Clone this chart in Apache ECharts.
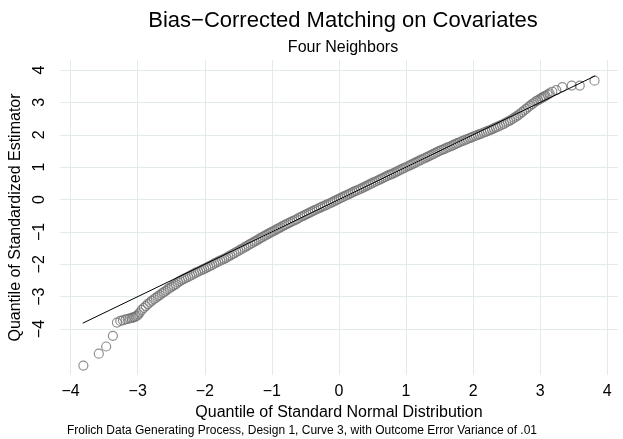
<!DOCTYPE html>
<html>
<head>
<meta charset="utf-8">
<script src="https://cdn.jsdelivr.net/npm/echarts@6/dist/echarts.min.js"></script>
<style>
  html, body { margin: 0; padding: 0; background: #fff; }
  #main { width: 623px; height: 439px; }
</style>
</head>
<body>
<div id="main"></div>
<script>
// quantiles of the standard normal (x) against sorted standardized estimates (y)
const qNormal = [
  -3.81, -3.58, -3.47, -3.37, -3.31, -3.26, -3.22, -3.18, -3.15, -3.12, -3.09, -3.07, -3.05, -3.03, -3.01, -2.99, -2.97,
  -2.94, -2.91, -2.88, -2.85, -2.82, -2.79, -2.76, -2.73, -2.70, -2.67, -2.64, -2.61, -2.58, -2.55, -2.52, -2.49,
  -2.46, -2.43, -2.40, -2.37, -2.34, -2.31, -2.28, -2.25, -2.22, -2.19, -2.16, -2.13, -2.10, -2.07, -2.04, -2.01,
  -1.98, -1.95, -1.92, -1.89, -1.86, -1.83, -1.80, -1.77, -1.74, -1.71, -1.68, -1.65, -1.62, -1.59, -1.56, -1.53,
  -1.50, -1.47, -1.44, -1.41, -1.38, -1.35, -1.32, -1.29, -1.26, -1.23, -1.20, -1.17, -1.14, -1.11, -1.08, -1.05,
  -1.02, -0.99, -0.96, -0.93, -0.90, -0.87, -0.84, -0.81, -0.78, -0.75, -0.72, -0.69, -0.66, -0.63, -0.60, -0.57,
  -0.54, -0.51, -0.48, -0.45, -0.42, -0.39, -0.36, -0.33, -0.30, -0.27, -0.24, -0.21, -0.18, -0.15, -0.12, -0.09,
  -0.06, -0.03, 0.00, 0.03, 0.06, 0.09, 0.12, 0.15, 0.18, 0.21, 0.24, 0.27, 0.30, 0.33, 0.36, 0.39,
  0.42, 0.45, 0.48, 0.51, 0.54, 0.57, 0.60, 0.63, 0.66, 0.69, 0.72, 0.75, 0.78, 0.81, 0.84, 0.87,
  0.90, 0.93, 0.96, 0.99, 1.02, 1.05, 1.08, 1.11, 1.14, 1.17, 1.20, 1.23, 1.26, 1.29, 1.32, 1.35,
  1.38, 1.41, 1.44, 1.47, 1.50, 1.53, 1.56, 1.59, 1.62, 1.65, 1.68, 1.71, 1.74, 1.77, 1.80, 1.83,
  1.86, 1.89, 1.92, 1.95, 1.98, 2.01, 2.04, 2.07, 2.10, 2.13, 2.16, 2.19, 2.22, 2.25, 2.28, 2.31,
  2.34, 2.37, 2.40, 2.43, 2.46, 2.49, 2.52, 2.55, 2.58, 2.61, 2.64, 2.67, 2.70, 2.73, 2.76, 2.79,
  2.82, 2.85, 2.88, 2.91, 2.94, 2.97,
  3.00, 3.02, 3.04, 3.06, 3.08, 3.11, 3.14, 3.18, 3.24, 3.33, 3.47, 3.59, 3.81
];
const qEstimate = [
  -5.13, -4.76, -4.54, -4.21, -3.80, -3.75, -3.73, -3.70, -3.69, -3.67, -3.66, -3.64, -3.63, -3.61, -3.59, -3.55, -3.49,
  -3.41, -3.35, -3.29, -3.23, -3.18, -3.13, -3.08, -3.04, -2.99, -2.95, -2.90, -2.86, -2.82, -2.77, -2.73, -2.69,
  -2.65, -2.61, -2.56, -2.52, -2.48, -2.45, -2.42, -2.39, -2.36, -2.33, -2.29, -2.26, -2.23, -2.20, -2.17, -2.14,
  -2.11, -2.08, -2.05, -2.02, -1.98, -1.95, -1.92, -1.89, -1.86, -1.83, -1.80, -1.76, -1.73, -1.69, -1.66, -1.62,
  -1.59, -1.55, -1.52, -1.48, -1.45, -1.41, -1.37, -1.34, -1.30, -1.27, -1.23, -1.19, -1.16, -1.12, -1.09, -1.05,
  -1.02, -0.99, -0.96, -0.92, -0.89, -0.86, -0.82, -0.79, -0.76, -0.73, -0.70, -0.67, -0.64, -0.61, -0.57, -0.54,
  -0.51, -0.48, -0.45, -0.42, -0.39, -0.36, -0.33, -0.30, -0.27, -0.24, -0.21, -0.19, -0.16, -0.13, -0.10, -0.07,
  -0.04, -0.01, 0.02, 0.05, 0.08, 0.11, 0.14, 0.17, 0.20, 0.23, 0.26, 0.28, 0.31, 0.34, 0.37, 0.40,
  0.43, 0.46, 0.49, 0.52, 0.55, 0.58, 0.61, 0.64, 0.67, 0.70, 0.73, 0.76, 0.78, 0.81, 0.84, 0.87,
  0.90, 0.93, 0.96, 0.99, 1.02, 1.05, 1.08, 1.11, 1.14, 1.17, 1.20, 1.23, 1.26, 1.29, 1.32, 1.35,
  1.38, 1.41, 1.44, 1.47, 1.50, 1.53, 1.55, 1.58, 1.61, 1.63, 1.66, 1.69, 1.72, 1.74, 1.77, 1.80,
  1.82, 1.85, 1.87, 1.90, 1.92, 1.95, 1.97, 2.00, 2.02, 2.04, 2.07, 2.09, 2.12, 2.14, 2.17, 2.20,
  2.23, 2.25, 2.28, 2.31, 2.34, 2.38, 2.41, 2.44, 2.48, 2.52, 2.56, 2.60, 2.65, 2.70, 2.75, 2.80,
  2.85, 2.90, 2.95, 2.99, 3.04, 3.07,
  3.11, 3.13, 3.16, 3.18, 3.20, 3.24, 3.28, 3.33, 3.38, 3.47, 3.52, 3.52, 3.67
];
// reference line (normal with the sample's mean and sd)
const refLineX = [-3.82, 3.82];
const refLineY = [-3.82, 3.82];
const xTicks = [-4, -3, -2, -1, 0, 1, 2, 3, 4];
const yTicks = [-4, -3, -2, -1, 0, 1, 2, 3, 4];

const font = "'Liberation Sans', Arial, Helvetica, sans-serif";
const gridColor = '#e2eaea';
const minus = v => String(v).replace('-', '\u2212');

let points = qNormal.map((x, i) => [x, qEstimate[i]]);
let line = refLineX.map((x, i) => [x, refLineY[i]]);

let option = {
  backgroundColor: '#ffffff',
  animation: false,
  title: [
    {
      text: 'Bias\u2212Corrected Matching on Covariates',
      left: 338, top: 5, textAlign: 'center',
      textStyle: { fontFamily: font, fontSize: 22, fontWeight: 'normal', color: '#000' }
    },
    {
      text: 'Four Neighbors',
      left: 338, top: 35, textAlign: 'center',
      textStyle: { fontFamily: font, fontSize: 16, fontWeight: 'normal', color: '#000' }
    },
    {
      text: 'Frolich Data Generating Process, Design 1, Curve 3, with Outcome Error Variance of .01',
      left: 62, top: 420,
      textStyle: { fontFamily: font, fontSize: 12, fontWeight: 'normal', color: '#000' }
    }
  ],
  grid: { left: 58, right: 5, top: 60, bottom: 64 },
  xAxis: {
    type: 'value',
    min: -4.16, max: 4.16,
    name: 'Quantile of Standard Normal Distribution',
    nameLocation: 'middle', nameGap: 25,
    nameTextStyle: { fontFamily: font, fontSize: 16, color: '#000' },
    axisLine: { show: false },
    axisTick: { show: false, customValues: xTicks },
    axisLabel: {
      customValues: xTicks, margin: 9,
      fontFamily: font, fontSize: 16, color: '#000',
      formatter: minus
    },
    splitLine: { show: true, lineStyle: { color: gridColor, width: 1 } }
  },
  yAxis: {
    type: 'value',
    min: -5.42, max: 4.31,
    name: 'Quantile of Standardized Estimator',
    nameLocation: 'middle', nameGap: 30, nameRotate: 90,
    nameTextStyle: { fontFamily: font, fontSize: 16, color: '#000' },
    axisLine: { show: false },
    axisTick: { show: false, customValues: yTicks },
    axisLabel: {
      customValues: yTicks, margin: 12, rotate: 90,
      fontFamily: font, fontSize: 16, color: '#000',
      formatter: minus
    },
    splitLine: { show: true, lineStyle: { color: gridColor, width: 1 } }
  },
  series: [
    {
      type: 'scatter',
      data: points,
      symbol: 'circle',
      symbolSize: 9,
      itemStyle: { color: 'rgba(0,0,0,0)', borderColor: '#737373', borderWidth: 1.2 },
      z: 2
    },
    {
      type: 'line',
      data: line,
      showSymbol: false,
      lineStyle: { color: '#000', width: 1 },
      z: 3
    }
  ]
};

let myChart = echarts.init(document.getElementById('main'));
myChart.setOption(option);
</script>
</body>
</html>
